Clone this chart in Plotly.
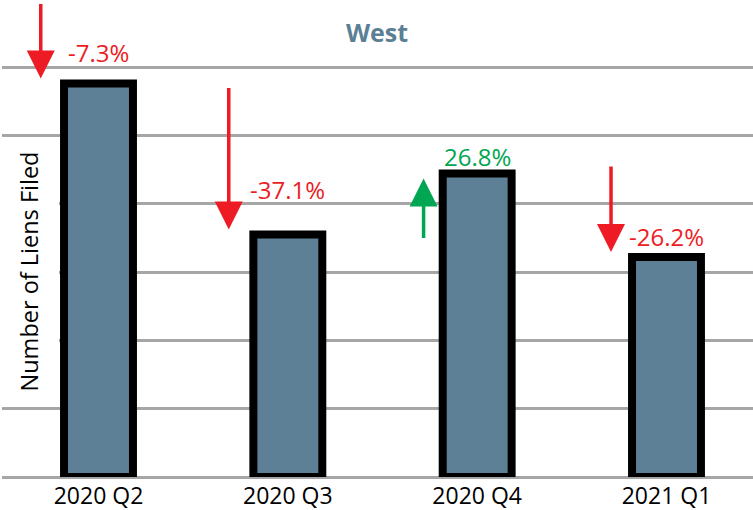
import plotly.graph_objects as go

# ---- data ----
categories = ["2020 Q2", "2020 Q3", "2020 Q4", "2021 Q1"]
liens = [576, 355, 444, 322]          # relative bar heights (gridline = 100)
pct_change = [-7.3, -37.1, 26.8, -26.2]
pct_labels = ["-7.3%", "-37.1%", "26.8%", "-26.2%"]

# ---- styles ----
BAR_FILL = "#5e8096"
TITLE_COLOR = "#5b7f95"
RED = "#ed1c24"
GREEN = "#00a651"
GRID = "#a6a6a6"
FONT = "Open Sans"

label_shift_px = [31, 45, 17, 20]          # label height above bar top
arrow_x_offset = [-0.305, -0.312, -0.283, -0.293]
arrow_tail_px = [81, 148, 66, 92]          # arrow length (tail distance from bar top)

fig = go.Figure()
fig.add_bar(
    x=categories,
    y=liens,
    width=0.364,
    marker=dict(color=BAR_FILL, line=dict(color="black", width=8)),
    hoverinfo="skip",
)

annotations = []
for i, (v, p, lab) in enumerate(zip(liens, pct_change, pct_labels)):
    col = GREEN if p > 0 else RED
    annotations.append(dict(
        x=i, y=v, xref="x", yref="y", text=lab, showarrow=False,
        yshift=label_shift_px[i], yanchor="middle",
        font=dict(family=FONT, size=24, color=col),
    ))
    # arrow: down arrows come from above, up arrow from below
    ay = arrow_tail_px[i] if p > 0 else -arrow_tail_px[i]
    annotations.append(dict(
        x=i + arrow_x_offset[i], y=v, xref="x", yref="y", text="",
        showarrow=True, ax=0, ay=ay, axref="pixel", ayref="pixel",
        arrowhead=2, arrowwidth=3.5, arrowsize=1.6, arrowcolor=col,
        standoff=5,
    ))

# y-axis title with white background masking the gridlines
annotations.append(dict(
    x=(29 - 2) / 751, y=(477 - 271.5) / 477, xref="paper", yref="paper",
    text="Number of Liens Filed", showarrow=False, textangle=-90,
    font=dict(family=FONT, size=23.5, color="black"),
    bgcolor="white", width=252, height=57,
    xanchor="center", yanchor="middle",
))

fig.update_layout(
    width=753, height=510,
    margin=dict(l=2, r=0, t=0, b=33),
    paper_bgcolor="white", plot_bgcolor="white",
    showlegend=False,
    title=dict(text="<b>West</b>", x=377 / 753, y=1 - 33 / 510,
               xanchor="center", yanchor="middle",
               font=dict(family=FONT, size=25, color=TITLE_COLOR)),
    xaxis=dict(range=[-0.5097, 3.4569], showgrid=False, zeroline=False,
               showline=False, ticks="", ticklabelstandoff=3,
               tickfont=dict(family=FONT, size=23, color="black")),
    yaxis=dict(range=[0, 698.1], dtick=100, showgrid=True, gridcolor=GRID,
               gridwidth=3, zeroline=True, zerolinecolor=GRID,
               zerolinewidth=3, showticklabels=False, showline=False,
               ticks=""),
    annotations=annotations,
)

fig.write_html("out.html", config={"displayModeBar": False},
               post_script="document.body.style.margin='0';document.body.style.padding='0';")
